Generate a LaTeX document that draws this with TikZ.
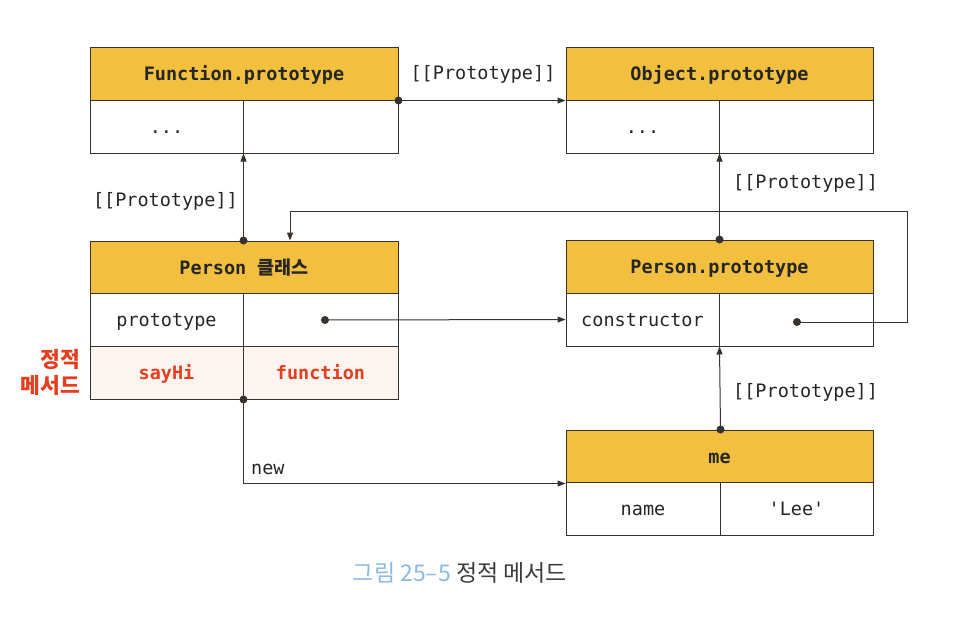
\documentclass[tikz,border=0pt]{standalone}
\usepackage{fontspec}
\setmainfont{Noto Sans CJK KR}
\newfontfamily\mono{DejaVu Sans Mono}
\newfontfamily\kr{Noto Sans CJK KR}
\usetikzlibrary{arrows.meta}
\definecolor{hdr}{RGB}{242,192,62}
\definecolor{line}{RGB}{55,50,45}
\definecolor{pinkbg}{RGB}{252,244,238}
\definecolor{redtxt}{RGB}{228,62,30}
\definecolor{capblue}{RGB}{140,185,225}
\definecolor{capgray}{RGB}{60,60,60}
\tikzset{
  cell/.style={draw=line, line width=1pt, rectangle, inner sep=0pt, fill=white,
    minimum height=53pt, text height=15.5pt, text depth=2pt,
    font=\mono\fontsize{18.5}{20}\selectfont, text=black!85},
  hdrcell/.style={cell, fill=hdr, font=\mono\bfseries\fontsize{18.5}{20}\selectfont},
  redcell/.style={cell, fill=pinkbg, text=redtxt, font=\mono\bfseries\fontsize{18.5}{20}\selectfont},
  conn/.style={draw=line, line width=1pt},
  arr/.style={conn, -{Triangle[length=8pt,width=6pt]}},
  dotc/.style={fill=line, circle, inner sep=0pt, minimum size=8pt},
  lbl/.style={font=\mono\fontsize{18.5}{20}\selectfont, text=black!85, inner sep=0pt},
}
\begin{document}
\begin{tikzpicture}[x=1pt,y=-1pt]
\useasboundingbox (0,0) rectangle (964,622);
% Function.prototype
\node[hdrcell, minimum width=308pt] (fph) at (244,73.5) {Function.prototype};
\node[cell, minimum width=153pt] (fpa) at (166.5,126.5) {...};
\node[cell, minimum width=155pt] (fpb) at (320.5,126.5) {};
% Object.prototype
\node[hdrcell, minimum width=307pt] (oph) at (719.5,73.5) {Object.prototype};
\node[cell, minimum width=153pt] (opa) at (642.5,126.5) {...};
\node[cell, minimum width=154pt] (opb) at (796,126.5) {};
% Person class
\node[hdrcell, minimum width=308pt] (pch) at (244,267.5) {Person {\kr\bfseries 클래스}};
\node[cell, minimum width=153pt] (pca) at (166.5,320) {prototype};
\node[cell, minimum width=155pt] (pcb) at (320.5,320) {};
\node[redcell, minimum width=153pt] (pcc) at (166.5,372.5) {sayHi};
\node[redcell, minimum width=155pt] (pcd) at (320.5,372.5) {function};
% Person.prototype
\node[hdrcell, minimum width=307pt] (pph) at (719.5,266.5) {Person.prototype};
\node[cell, minimum width=153pt] (ppa) at (642.5,319.5) {constructor};
\node[cell, minimum width=154pt] (ppb) at (796,319.5) {};
% me
\node[hdrcell, minimum width=307pt] (meh) at (719.5,456.5) {me};
\node[cell, minimum width=154pt] (mea) at (643,509) {name};
\node[cell, minimum width=153pt] (meb) at (796.5,509) {'Lee'};
% side label
\node[font=\kr\bfseries\fontsize{21.5}{26}\selectfont, text=redtxt, align=right, anchor=east, inner sep=0pt] (side) at (80,372) {정적\\메서드};
% caption
\node[font=\kr\fontsize{23}{26}\selectfont, inner sep=0pt] (cap) at (460,573) {\textcolor{capblue}{그림 25–5} \textcolor{capgray}{정적 메서드}};
% connectors
\node[dotc] (d1) at (fph.south east) {};
\draw[arr] (fph.south east) -- (oph.south west);
\node[lbl] (l1) at (483,74) {[[Prototype]]};

\node[dotc] (d2) at (fpa.south east |- pch.north) {};
\draw[arr] (d2.center) -- (fpa.south east);
\node[lbl, anchor=east] (l2) at (238,201) {[[Prototype]]};

\node[dotc] (d3) at (ppa.north east |- pph.north) {};
\draw[arr] (d3.center) -- (opa.south east);
\node[lbl, anchor=west] (l3) at (733,183) {[[Prototype]]};

\node[dotc] (d4) at (325,320) {};
\draw[arr] (d4.center) -- (ppa.west);

\node[dotc] (d5) at (797,322) {};
\coordinate (c5a) at (907,322);
\coordinate (c5b) at (907,211);
\coordinate (c5c) at (290,211);
\draw[arr] (d5.center) -- (c5a) -- (c5b) -- (c5c) -- (c5c |- pch.north);

\node[dotc] (d6) at (mea.north east |- meh.north) {};
\draw[arr] (d6.center) -- (ppa.south east);
\node[lbl, anchor=west] (l6) at (733,392) {[[Prototype]]};

\node[dotc] (d7) at (pcc.south east) {};
\coordinate (c7) at (pcc.south east |- meh.south west);
\draw[arr] (d7.center) -- (c7) -- (meh.south west);
\node[lbl, anchor=west] (l7) at (251,469) {new};
\end{tikzpicture}
\end{document}
